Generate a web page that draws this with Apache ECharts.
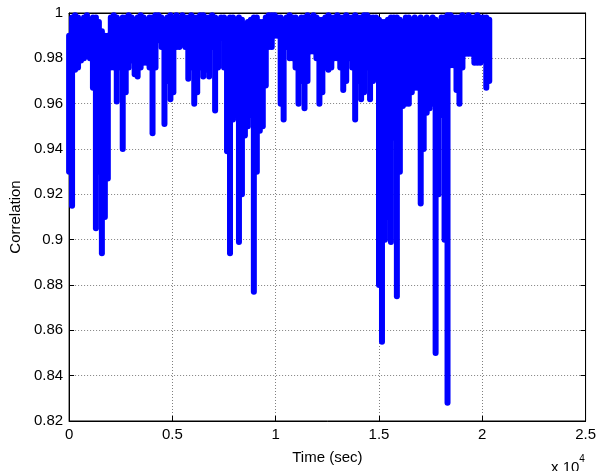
<!DOCTYPE html>
<html>
<head>
<meta charset="utf-8">
<script src="https://cdn.jsdelivr.net/npm/echarts@6/dist/echarts.min.js"></script>
<style>
html,body{margin:0;padding:0;background:#fff;}
#chart{width:599px;height:471px;}
</style>
</head>
<body>
<div id="chart"></div>
<script>
// Time (sec) of each read-off column of the dense trace
var times = [0,144,288,433,577,721,865,1010,1154,1298,1442,1587,1731,1875,2019,2164,2308,2452,2596,2741,2885,3029,3173,3318,3462,3606,3750,3895,4039,4183,4327,4471,4616,4760,4904,5048,5193,5337,5481,5625,5770,5914,6058,6202,6347,6491,6635,6779,6924,7068,7212,7356,7500,7645,7789,7933,8077,8222,8366,8510,8654,8799,8943,9087,9231,9376,9520,9664,9808,9952,10097,10241,10385,10529,10674,10818,10962,11106,11251,11395,11539,11683,11828,11972,12116,12260,12404,12549,12693,12837,12981,13126,13270,13414,13558,13703,13847,13991,14135,14280,14424,14568,14712,14857,15001,15145,15289,15433,15578,15722,15866,16010,16155,16299,16443,16587,16732,16876,17020,17164,17309,17453,17597,17741,17886,18030,18174,18318,18463,18607,18751,18895,19040,19184,19328,19472,19617,19761,19905,20049,20194,20338];
// Lowest correlation reached in each column
var corrLow = [0.930,0.915,0.975,0.976,0.979,0.980,0.981,0.980,0.967,0.905,0.930,0.894,0.910,0.927,0.976,0.976,0.961,0.976,0.940,0.965,0.976,0.979,0.973,0.972,0.976,0.978,0.978,0.976,0.947,0.976,0.988,0.985,0.951,0.970,0.962,0.965,0.985,0.985,0.986,0.985,0.971,0.976,0.960,0.965,0.976,0.972,0.975,0.972,0.985,0.957,0.976,0.989,0.976,0.939,0.894,0.953,0.955,0.899,0.920,0.946,0.950,0.955,0.877,0.930,0.948,0.950,0.968,0.985,0.985,0.990,0.990,0.960,0.953,0.985,0.980,0.980,0.976,0.960,0.970,0.958,0.970,0.983,0.983,0.980,0.960,0.965,0.976,0.975,0.976,0.980,0.980,0.976,0.966,0.970,0.980,0.976,0.953,0.970,0.962,0.965,0.976,0.962,0.970,0.980,0.880,0.855,0.900,0.910,0.899,0.945,0.875,0.930,0.959,0.960,0.960,0.965,0.967,0.967,0.916,0.940,0.956,0.958,0.960,0.850,0.920,0.955,0.900,0.828,0.977,0.977,0.966,0.960,0.976,0.982,0.982,0.982,0.978,0.978,0.978,0.979,0.967,0.970];
// Highest correlation reached in each column
var corrHigh = [0.990,0.998,0.999,0.998,0.996,0.998,0.999,0.997,0.998,0.998,0.996,0.992,0.990,0.990,0.998,0.999,0.998,0.997,0.998,0.998,0.999,0.998,0.997,0.998,0.999,0.998,0.997,0.998,0.998,0.999,0.999,0.998,0.997,0.998,0.999,0.998,0.999,0.998,0.999,0.998,0.998,0.999,0.998,0.998,0.999,0.999,0.998,0.998,0.999,0.998,0.997,0.998,0.998,0.997,0.998,0.998,0.997,0.998,0.997,0.995,0.996,0.997,0.998,0.998,0.996,0.996,0.998,0.999,0.999,0.999,0.998,0.998,0.997,0.998,0.999,0.998,0.998,0.997,0.998,0.998,0.999,0.998,0.999,0.998,0.997,0.997,0.998,0.999,0.998,0.998,0.999,0.998,0.998,0.999,0.998,0.998,0.999,0.998,0.998,0.999,0.999,0.998,0.998,0.998,0.997,0.996,0.996,0.997,0.998,0.998,0.998,0.997,0.996,0.998,0.998,0.997,0.998,0.997,0.998,0.997,0.998,0.997,0.998,0.997,0.996,0.998,0.998,0.999,0.999,0.998,0.998,0.998,0.999,0.998,0.999,0.998,0.998,0.999,0.998,0.998,0.998,0.997];
var xTicks = [0, 5000, 10000, 15000, 20000, 25000];
var yTicks = [0.82, 0.84, 0.86, 0.88, 0.9, 0.92, 0.94, 0.96, 0.98, 1];

var data = times.map(function (t, i) { return [t, corrLow[i], corrHigh[i]]; });

var font = 'Liberation Sans, Arial, sans-serif';
var chart = echarts.init(document.getElementById('chart'), null, {renderer: 'canvas'});
var axLine = {show: true, onZero: false, lineStyle: {color: '#000', width: 1}};
var tick = {show: true, inside: true, length: 5, lineStyle: {color: '#000'}};
var grid = {show: true, lineStyle: {color: '#808080', type: [1, 2], width: 1}};
chart.setOption({
  animation: false,
  backgroundColor: '#fff',
  grid: {left: 67, right: 12, top: 13, bottom: 50, show: true, borderColor: '#000', borderWidth: 1},
  xAxis: [{
    type: 'value', min: xTicks[0], max: xTicks[xTicks.length - 1], interval: 5000,
    position: 'bottom',
    axisLine: axLine, axisTick: tick,
    axisLabel: {color: '#000', fontSize: 15, fontFamily: font, margin: 6,
      formatter: function (v) { return String(+(v / 10000).toFixed(2)); }},
    splitLine: grid,
    name: 'Time (sec)', nameLocation: 'middle', nameGap: 29,
    nameTextStyle: {color: '#000', fontSize: 15, fontFamily: font}
  }, {
    type: 'value', min: xTicks[0], max: xTicks[xTicks.length - 1], interval: 5000,
    position: 'top',
    axisLine: axLine, axisTick: tick, axisLabel: {show: false}, splitLine: {show: false}
  }],
  yAxis: [{
    type: 'value', min: yTicks[0], max: yTicks[yTicks.length - 1], interval: 0.02,
    position: 'left',
    axisLine: axLine, axisTick: tick,
    axisLabel: {color: '#000', fontSize: 15, fontFamily: font, margin: 6,
      formatter: function (v) { return String(+v.toFixed(2)); }},
    splitLine: grid,
    name: 'Correlation', nameLocation: 'middle', nameGap: 42, nameRotate: 90,
    nameTextStyle: {color: '#000', fontSize: 15, fontFamily: font}
  }, {
    type: 'value', min: yTicks[0], max: yTicks[yTicks.length - 1], interval: 0.02,
    position: 'right',
    axisLine: axLine, axisTick: tick, axisLabel: {show: false}, splitLine: {show: false}
  }],
  graphic: [{
    type: 'text', left: 551, top: 454,
    style: {
      text: '{a|x 10}{b|4}',
      rich: {
        a: {fontSize: 15, fontFamily: font, fill: '#000', padding: [6, 0, 0, 0]},
        b: {fontSize: 10, fontFamily: font, fill: '#000', verticalAlign: 'top'}
      }
    }
  }],
  series: [{
    type: 'custom', data: data, xAxisIndex: 0, yAxisIndex: 0,
    encode: {x: 0, y: [1, 2]}, clip: false,
    renderItem: function (params, api) {
      var p1 = api.coord([api.value(0), api.value(1)]);
      var p2 = api.coord([api.value(0), api.value(2)]);
      return {
        type: 'line',
        shape: {x1: p1[0], y1: p1[1], x2: p2[0], y2: p2[1]},
        style: {stroke: '#0000ff', lineWidth: 6, lineCap: 'round'}
      };
    }
  }]
});
</script>
</body>
</html>
